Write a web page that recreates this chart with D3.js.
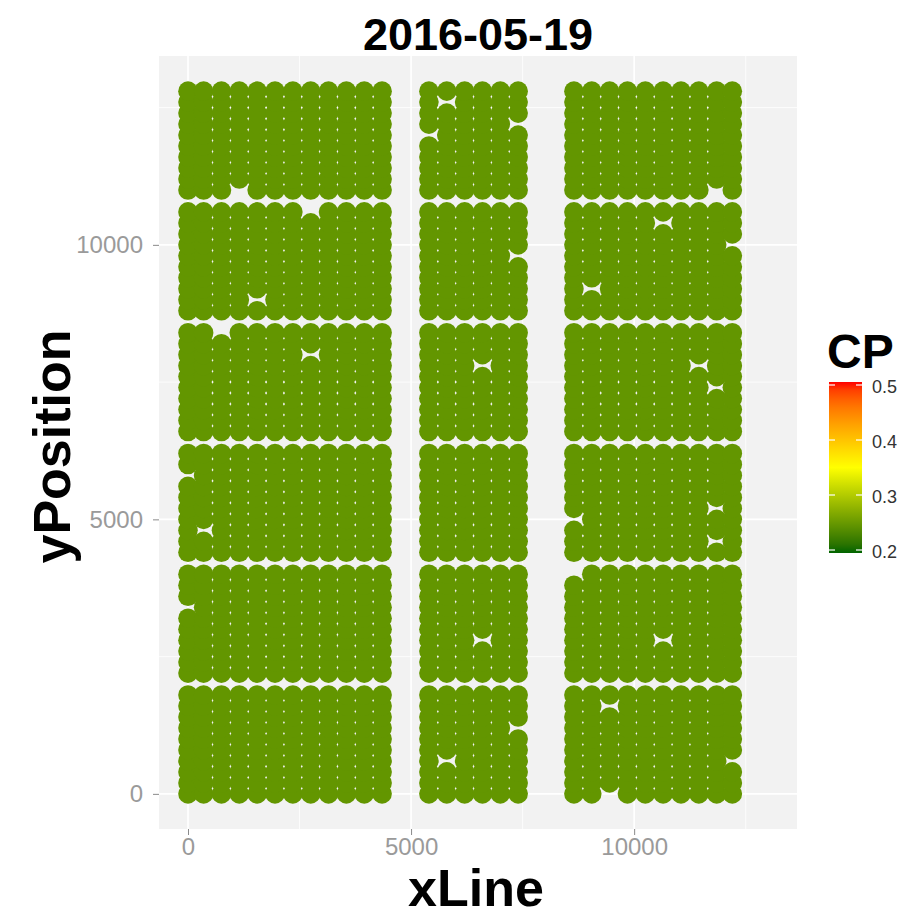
<!DOCTYPE html>
<html>
<head>
<meta charset="utf-8">
<script src="https://cdn.jsdelivr.net/npm/d3@7"></script>
<style>
  html, body { margin: 0; padding: 0; background: #ffffff; }
  svg { display: block; }
  text { font-family: "Liberation Sans", Arial, sans-serif; }
</style>
</head>
<body>
<svg id="chart" width="914" height="918"></svg>
<script>
// Survey lines (xLine) in the three blocks of the field
const xLine = [
  0, 350, 750, 1150, 1550, 1950, 2350, 2750, 3150, 3550, 3950, 4350,
  5400, 5800, 6200, 6600, 7000, 7400,
  8650, 9050, 9450, 9850, 10250, 10650, 11050, 11450, 11850, 12200
];

// Receiver positions along each line, six groups of ten
const yPosition = [
  0, 200, 400, 600, 800, 1000, 1200, 1400, 1600, 1800,
  2200, 2400, 2600, 2800, 3000, 3200, 3400, 3600, 3800, 4000,
  4400, 4600, 4800, 5000, 5200, 5400, 5600, 5800, 6000, 6200,
  6600, 6800, 7000, 7200, 7400, 7600, 7800, 8000, 8200, 8400,
  8800, 9000, 9200, 9400, 9600, 9800, 10000, 10200, 10400, 10600,
  11000, 11200, 11400, 11600, 11800, 12000, 12200, 12400, 12600, 12800
];

// Positions with no reading on this date  [xLine, yPosition]
const missing = [
  [1150, 11000], [2750, 10600], [1550, 9000], [750, 8400], [2750, 8000],
  [0, 5800], [350, 4800], [0, 3400],
  [5800, 12600], [5400, 12000], [7400, 12200], [7400, 9800],
  [6600, 7800], [6600, 2800], [7400, 1200], [5800, 600],
  [10650, 10400], [11850, 11000], [12200, 10000], [9050, 9200],
  [11450, 7800], [11850, 7400], [8650, 5000], [11850, 5200],
  [11850, 4600], [8650, 4000], [10650, 2800], [9450, 1600],
  [12200, 600], [9450, 0]
];

// CP reading at every recorded position
const cpValue = 0.25;

// Colour bar breaks and limits, axis breaks
const cpLimits = [0.2, 0.5];
const cpBreaks = [0.2, 0.3, 0.4, 0.5];
const xTicks = [0, 5000, 10000];
const yTicks = [0, 5000, 10000];
const xMinor = [2500, 7500, 12500];
const yMinor = [2500, 7500, 12500];

const missingSet = new Set(missing.map(d => d[0] + "," + d[1]));
const points = [];
xLine.forEach(x => yPosition.forEach(y => {
  if (!missingSet.has(x + "," + y)) points.push({ xLine: x, yPosition: y, CP: cpValue });
}));

const svg = d3.select("#chart");
const panel = { left: 159, right: 797, top: 56, bottom: 829 };

const x = d3.scaleLinear().domain([-650, 13650]).range([panel.left, panel.right]);
const y = d3.scaleLinear().domain([-640, 13440]).range([panel.bottom, panel.top]);

const colour = d3.scaleLinear()
  .domain([0.2, 0.35, 0.5])
  .range(["#006400", "#ffff00", "#ff0000"])
  .interpolate(d3.interpolateLab)
  .clamp(true);

// Panel background and grid
svg.append("rect")
  .attr("x", panel.left).attr("y", panel.top)
  .attr("width", panel.right - panel.left).attr("height", panel.bottom - panel.top)
  .attr("fill", "#f2f2f2");

const grid = svg.append("g");
grid.selectAll("line.xminor").data(xMinor).join("line")
  .attr("x1", d => x(d)).attr("x2", d => x(d))
  .attr("y1", panel.top).attr("y2", panel.bottom)
  .attr("stroke", "#ffffff").attr("stroke-width", 0.8);
grid.selectAll("line.yminor").data(yMinor).join("line")
  .attr("y1", d => y(d)).attr("y2", d => y(d))
  .attr("x1", panel.left).attr("x2", panel.right)
  .attr("stroke", "#ffffff").attr("stroke-width", 0.8);
grid.selectAll("line.xmajor").data(xTicks).join("line")
  .attr("x1", d => x(d)).attr("x2", d => x(d))
  .attr("y1", panel.top).attr("y2", panel.bottom)
  .attr("stroke", "#ffffff").attr("stroke-width", 1.6);
grid.selectAll("line.ymajor").data(yTicks).join("line")
  .attr("y1", d => y(d)).attr("y2", d => y(d))
  .attr("x1", panel.left).attr("x2", panel.right)
  .attr("stroke", "#ffffff").attr("stroke-width", 1.6);

// Points
svg.append("g").selectAll("circle").data(points).join("circle")
  .attr("cx", d => x(d.xLine))
  .attr("cy", d => y(d.yPosition))
  .attr("r", 9.8)
  .attr("fill", d => colour(d.CP));

// Axes
const xAxis = svg.append("g")
  .attr("transform", `translate(0,${panel.bottom})`)
  .call(d3.axisBottom(x).tickValues(xTicks).tickFormat(d3.format("d")).tickSizeOuter(0).tickSize(6).tickPadding(3));
const yAxis = svg.append("g")
  .attr("transform", `translate(${panel.left},0)`)
  .call(d3.axisLeft(y).tickValues(yTicks).tickFormat(d3.format("d")).tickSizeOuter(0).tickSize(6).tickPadding(10));
[xAxis, yAxis].forEach(g => {
  g.select(".domain").remove();
  g.selectAll(".tick line").attr("stroke", "#8a8a8a");
  g.selectAll(".tick text")
    .attr("fill", "#9a9a9a")
    .style("font-size", "24px")
    .style("font-family", "'Liberation Sans', Arial, sans-serif");
});

// Titles
svg.append("text")
  .attr("x", (panel.left + panel.right) / 2).attr("y", 50)
  .attr("text-anchor", "middle")
  .style("font-size", "45px").style("font-weight", "bold")
  .attr("fill", "#000").text("2016-05-19");

svg.append("text")
  .attr("x", (panel.left + panel.right) / 2 - 2).attr("y", 906)
  .attr("text-anchor", "middle")
  .style("font-size", "52px").style("font-weight", "bold")
  .attr("fill", "#000").text("xLine");

svg.append("text")
  .attr("transform", `translate(70,${(panel.top + panel.bottom) / 2 + 4}) rotate(-90)`)
  .attr("text-anchor", "middle")
  .style("font-size", "52px").style("font-weight", "bold")
  .attr("fill", "#000").text("yPosition");

// Colour bar legend
const bar = { x: 829, width: 33, top: 382, bottom: 553 };
const cpY = d3.scaleLinear().domain(cpLimits).range([bar.bottom - 3, bar.top + 3]);

const defs = svg.append("defs");
const grad = defs.append("linearGradient").attr("id", "cpGrad")
  .attr("x1", 0).attr("y1", 1).attr("x2", 0).attr("y2", 0);
d3.range(0, 1.0001, 0.05).forEach(t => {
  grad.append("stop").attr("offset", t)
    .attr("stop-color", colour(cpLimits[0] + t * (cpLimits[1] - cpLimits[0])));
});

svg.append("text")
  .attr("x", bar.x - 2).attr("y", 368)
  .style("font-size", "48px").style("font-weight", "bold")
  .attr("fill", "#000").text("CP");

svg.append("rect")
  .attr("x", bar.x).attr("y", bar.top)
  .attr("width", bar.width).attr("height", bar.bottom - bar.top)
  .attr("fill", "url(#cpGrad)");

const legendTicks = svg.append("g");
cpBreaks.forEach(b => {
  const yy = cpY(b);
  legendTicks.append("line")
    .attr("x1", bar.x).attr("x2", bar.x + 6).attr("y1", yy).attr("y2", yy)
    .attr("stroke", "#ffffff").attr("stroke-width", 1.2);
  legendTicks.append("line")
    .attr("x1", bar.x + bar.width - 6).attr("x2", bar.x + bar.width).attr("y1", yy).attr("y2", yy)
    .attr("stroke", "#ffffff").attr("stroke-width", 1.2);
  legendTicks.append("text")
    .attr("x", bar.x + bar.width + 10).attr("y", yy + 2)
    .attr("dy", "0.35em")
    .style("font-size", "18px")
    .attr("fill", "#333333").text(d3.format(".1f")(b));
});
</script>
</body>
</html>
